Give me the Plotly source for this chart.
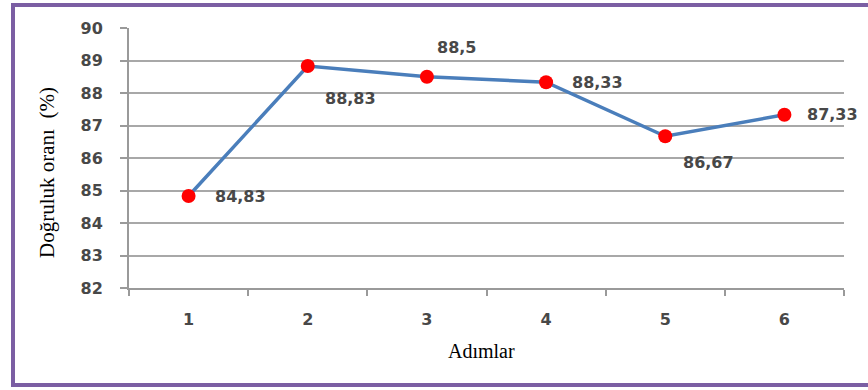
import plotly.graph_objects as go

# Accuracy per step
steps = [1, 2, 3, 4, 5, 6]
accuracy = [84.83, 88.83, 88.5, 88.33, 86.67, 87.33]
y_ticks = [82, 83, 84, 85, 86, 87, 88, 89, 90]

# label offsets (pixels) for each point's value label
label_dx = [24, 15, 8, 24, 16, 21]
label_dy = [0, -32, 29, 0, -26, 0]

W, H = 868, 390
L, R, T, B = 129, 24, 28, 102
pw, ph = W - L - R, H - T - B

tick_font = dict(family="DejaVu Sans", size=16, color="#484848", weight="bold")

fig = go.Figure()
fig.add_trace(go.Scatter(
    x=steps, y=accuracy, mode="lines+markers",
    line=dict(color="#4A7EBB", width=3.5),
    marker=dict(color="#FF0000", size=14, line=dict(width=0)),
    hoverinfo="skip", showlegend=False,
))

for x, y, dx, dy in zip(steps, accuracy, label_dx, label_dy):
    fig.add_annotation(
        x=x, y=y, xref="x", yref="y", text=f"{y:g}".replace(".", ","),
        showarrow=False, xanchor="left", yanchor="middle",
        xshift=dx, yshift=dy, font=tick_font,
    )

# axis titles
fig.add_annotation(
    x=(47 - L) / pw, y=(T + ph - 173) / ph, xref="paper", yref="paper",
    xanchor="center", yanchor="middle",
    text="Doğruluk oranı\u00a0\u00a0(%)", textangle=-90, showarrow=False,
    font=dict(family="Liberation Serif", size=21, color="#000000"),
)
fig.add_annotation(
    x=(481 - L) / pw, y=(T + ph - 351) / ph, xref="paper", yref="paper",
    xanchor="center", yanchor="middle",
    text="Adımlar", showarrow=False,
    font=dict(family="Liberation Serif", size=20, color="#000000"),
)

# purple frame around the chart
fig.add_shape(
    type="rect", xref="paper", yref="paper",
    x0=(13 - L) / pw, x1=(875 - L) / pw,
    y0=(T + ph - 385) / ph, y1=(T + ph - 5) / ph,
    line=dict(color="#7B5EA3", width=4), fillcolor="rgba(0,0,0,0)", layer="below",
)

fig.update_layout(
    width=W, height=H,
    margin=dict(l=L, r=R, t=T, b=B),
    paper_bgcolor="white", plot_bgcolor="white",
    xaxis=dict(
        range=[0.5, 6.5], tickvals=steps, ticktext=[str(s) for s in steps],
        ticks="", showgrid=False, zeroline=False,
        showline=True, linecolor="#9a9a9a", linewidth=2,
        tickfont=tick_font, ticklabelstandoff=16,
        minor=dict(ticks="outside", tick0=0.5, dtick=1, ticklen=6,
                   tickcolor="#9a9a9a", tickwidth=2, showgrid=False),
        fixedrange=True,
    ),
    yaxis=dict(
        range=[82, 90], tickvals=y_ticks, ticks="outside", ticklen=7,
        tickcolor="#9a9a9a", tickwidth=2,
        showgrid=True, gridcolor="#a8a8a8", gridwidth=2, zeroline=False,
        showline=True, linecolor="#9a9a9a", linewidth=2,
        tickfont=tick_font, ticklabelstandoff=14,
        fixedrange=True,
    ),
)

fig.write_html("out.html")
